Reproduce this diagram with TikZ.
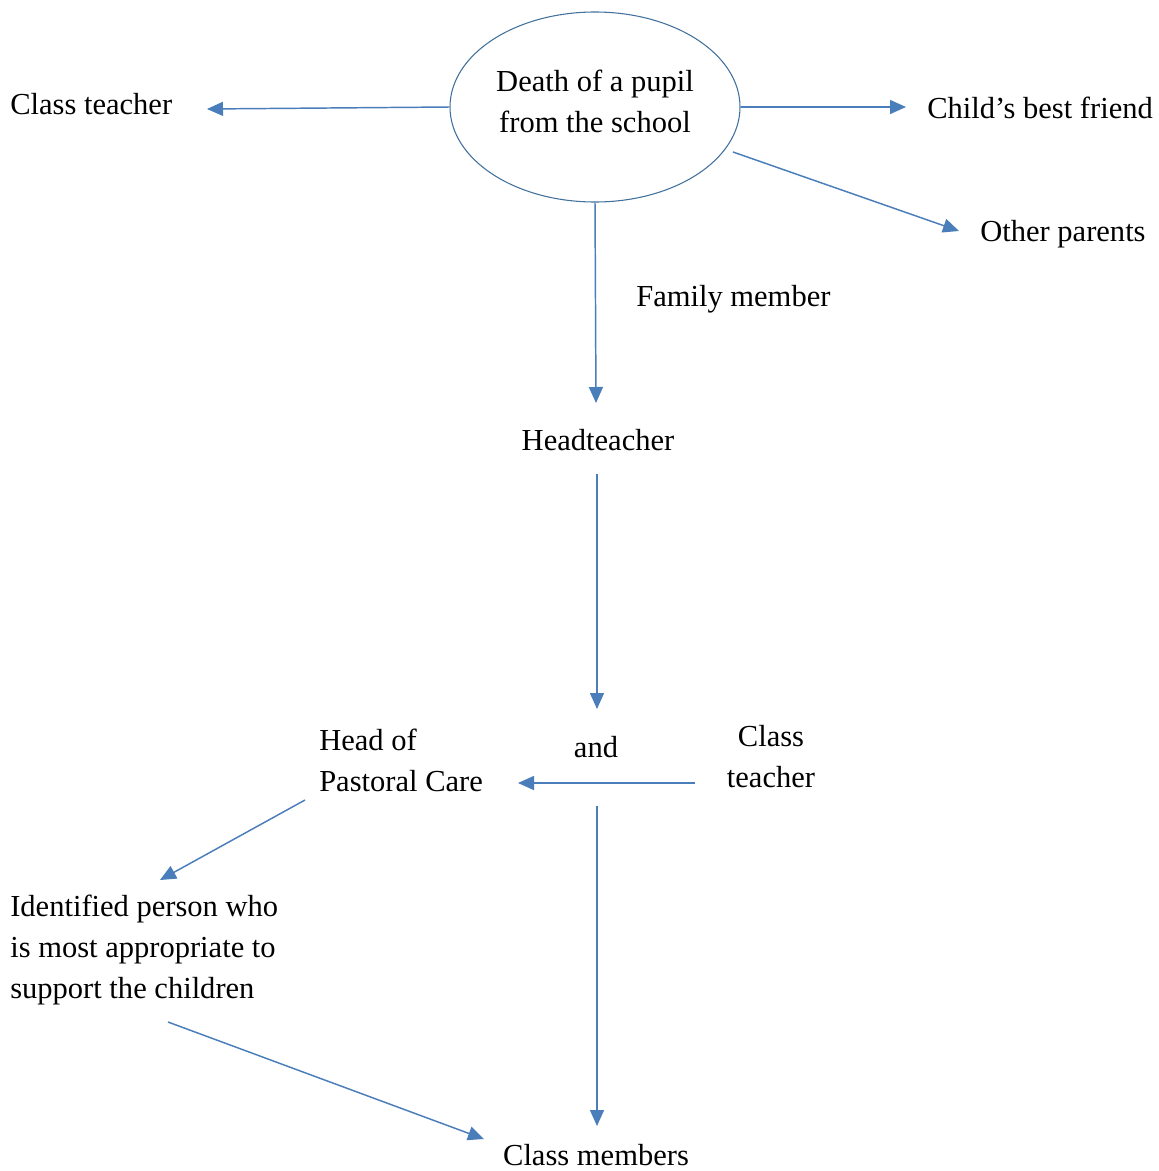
\documentclass[tikz,border=0pt]{standalone}
\usepackage{fontspec}
\setmainfont{Liberation Serif}
\usetikzlibrary{shapes.geometric,arrows.meta,calc}
\definecolor{arrblue}{HTML}{4A7EBB}
\definecolor{ellblue}{HTML}{41719C}
\begin{document}
\begin{tikzpicture}[x=0.75pt,y=-0.75pt,
  lbl/.style={inner sep=0pt,font=\fontsize{22.9}{30.75}\selectfont,align=left},
  clbl/.style={inner sep=0pt,font=\fontsize{22.9}{30.75}\selectfont,align=center},
  arr/.style={draw=arrblue,line width=1.1pt,-{Triangle[length=12pt,width=10.5pt]}}]
\useasboundingbox[fill=white] (0,0) rectangle (1159,1171);
\node[ellipse,draw=ellblue,line width=0.8pt,minimum width=217.5pt,minimum height=142.5pt,inner sep=0pt] (e) at (595,107) {};
\node[clbl] (et) at (595,101) {Death of a pupil\\from the school};
\node[lbl,anchor=west] (ct1) at (10,104) {Class teacher};
\node[lbl,anchor=west] (bf) at (927,108) {Child’s best friend};
\node[lbl,anchor=west] (op) at (980,234) {Other parents};
\node[lbl,anchor=west] (fm) at (636,299) {Family member};
\node[clbl] (ht) at (598,440) {Headteacher};
\node[clbl] (and) at (596,747) {and};
\node[clbl] (ct2) at (771,757) {Class\\teacher};
\node[lbl,anchor=west] (hp) at (319,760) {Head of\\Pastoral Care};
\node[lbl,anchor=west] (ip) at (10,950) {Identified person who\\is most appropriate to\\support the children};
\node[clbl] (cm) at (596,1155) {Class members};
\draw[arr] (e.west) -- ($(ct1.west)+(197,5)$);
\draw[arr] (e.east) -- ($(bf.west)+(-21,-1)$);
\draw[arr] ($(e.center)+(138,45)$) -- ($(op.west)+(-21,-3)$);
\draw[arr] (e.south) -- ($(ht)+(-2,-37)$);
\draw[arr] ($(ht)+(-1,34)$) -- ($(and)+(1,-38)$);
\draw[arr] ($(ct2)+(-76,26)$) -- ($(hp.west)+(199,23)$);
\draw[arr] ($(hp.west)+(-14,40)$) -- ($(ip.west)+(150,-70)$);
\draw[arr] ($(ip.west)+(158,72)$) -- ($(cm)+(-112,-16)$);
\draw[arr] ($(and)+(1,59)$) -- ($(cm)+(1,-29)$);
\end{tikzpicture}
\end{document}
